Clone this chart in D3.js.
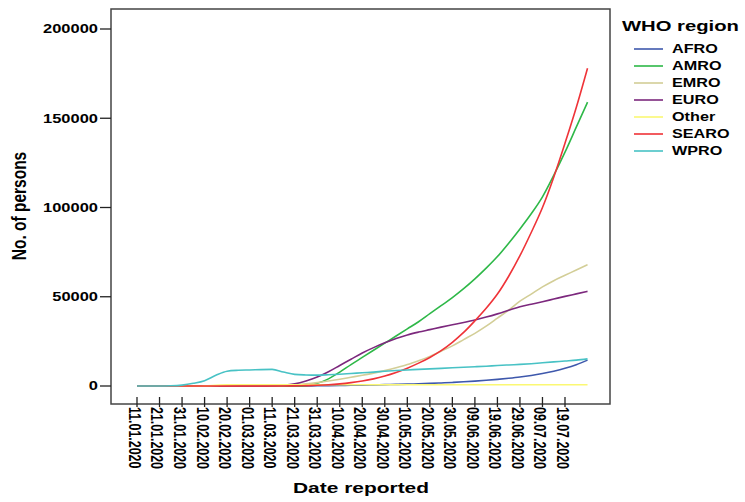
<!DOCTYPE html>
<html><head><meta charset="utf-8">
<script src="https://cdn.jsdelivr.net/npm/d3@7"></script>
<style>
html,body{margin:0;padding:0;background:#fff;}
svg text{font-family:"Liberation Sans",Arial,sans-serif;font-weight:bold;fill:#000;}
</style></head>
<body>
<svg id="chart" width="745" height="502"></svg>
<script>
const dates = ["11.01.2020","16.01.2020","21.01.2020","26.01.2020","31.01.2020","05.02.2020","10.02.2020","15.02.2020","20.02.2020","25.02.2020",
"01.03.2020","06.03.2020","11.03.2020","16.03.2020","21.03.2020","26.03.2020","31.03.2020","05.04.2020","10.04.2020","15.04.2020",
"20.04.2020","25.04.2020","30.04.2020","05.05.2020","10.05.2020","15.05.2020","20.05.2020","25.05.2020","30.05.2020","04.06.2020",
"09.06.2020","14.06.2020","19.06.2020","24.06.2020","29.06.2020","04.07.2020","09.07.2020","14.07.2020","19.07.2020","24.07.2020","29.07.2020"];

const afro  = [0,0,0,0,0,0,0,0,0,0,0,0,0,5,20,50,100,180,300,400,500,600,750,900,1050,1250,1450,1700,2000,2350,2750,3200,3700,4300,5000,5900,7000,8300,9900,11900,14500];
const amro  = [0,0,0,0,0,0,0,0,0,0,0,0,0,0,0,200,1500,4000,7800,12000,16000,20000,24000,28000,32000,36000,40500,45000,49500,54500,60000,66000,72500,80000,88000,96500,106000,118000,131000,145000,159000];
const emro  = [0,0,0,0,0,0,0,0,0,0,0,0,100,300,700,1200,1900,2800,3800,4900,6000,7200,8600,10200,12000,14200,16600,19500,22500,26000,29500,33500,38000,42500,47500,51500,55500,59000,62000,65000,68000];
const euro  = [0,0,0,0,0,0,0,0,0,0,0,0,100,400,1200,2800,5000,8000,11500,15000,18500,21500,24200,26600,28600,30200,31600,33000,34300,35600,37000,38600,40400,42400,44400,45800,47200,48700,50200,51600,53000];
const other = [0,0,0,0,0,0,50,350,650,700,710,710,710,712,712,712,712,712,712,712,712,712,712,712,712,712,712,712,712,712,712,712,712,712,712,712,712,712,712,712,712];
const searo = [0,0,0,0,0,0,0,0,0,0,0,0,10,30,80,200,400,700,1200,1900,2800,4000,5600,7600,10000,12800,16000,19800,24500,30000,36500,43500,51500,61500,73000,86000,100000,117000,136000,156000,178000];
const wpro  = [0,0,0,100,500,1500,3000,6000,8300,8800,9000,9200,9300,7800,6500,6200,6100,6300,6600,7000,7400,7800,8300,8700,9000,9300,9600,9900,10200,10500,10800,11100,11500,11800,12100,12500,13000,13500,14000,14500,15200];

const regions = ["AFRO","AMRO","EMRO","EURO","Other","SEARO","WPRO"];
const colors  = ["#3E58AC","#2EB848","#D3CE97","#7C287D","#FBF873","#EF3338","#48C2C5"];
const seriesValues = [afro, amro, emro, euro, other, searo, wpro];

const xTickLabels = ["11.01.2020","21.01.2020","31.01.2020","10.02.2020","20.02.2020","01.03.2020","11.03.2020","21.03.2020","31.03.2020","10.04.2020",
"20.04.2020","30.04.2020","10.05.2020","20.05.2020","30.05.2020","09.06.2020","19.06.2020","29.06.2020","09.07.2020","19.07.2020"];
const yTicks = [0,50000,100000,150000,200000];

const parse = d3.utcParse("%d.%m.%Y");
const SX = 1.35;

const svg = d3.select("#chart");
const frame = {left:111, top:9, right:610, bottom:404};

const x = d3.scaleUtc().domain([parse("11.01.2020"), parse("19.07.2020")]).range([137, 565]);
const y = d3.scaleLinear().domain([0, 200000]).range([386, 29]);

// lines
const line = d3.line().x(d => x(d.date)).y(d => y(d.v)).curve(d3.curveMonotoneX);
regions.forEach((r, i) => {
  const data = dates.map((d, j) => ({date: parse(d), v: seriesValues[i][j]}));
  svg.append("path").datum(data).attr("d", line)
    .attr("fill","none").attr("stroke", colors[i]).attr("stroke-width",1.6)
    .attr("stroke-linejoin","round");
});

// frame
svg.append("rect").attr("x",frame.left).attr("y",frame.top)
  .attr("width",frame.right-frame.left).attr("height",frame.bottom-frame.top)
  .attr("fill","none").attr("stroke","#444").attr("stroke-width",1.5);

// y axis ticks
const yg = svg.append("g");
yTicks.forEach(t => {
  yg.append("line").attr("x1",100).attr("x2",frame.left).attr("y1",y(t)).attr("y2",y(t))
    .attr("stroke","#222").attr("stroke-width",1.3);
  yg.append("text").attr("transform",`translate(98,${y(t)}) scale(${SX},1)`)
    .attr("text-anchor","end").attr("dy","0.36em").attr("font-size",12.2).text(t);
});

// x axis ticks
const xg = svg.append("g");
xTickLabels.forEach(s => {
  const xx = x(parse(s));
  xg.append("line").attr("x1",xx).attr("x2",xx).attr("y1",397).attr("y2",407)
    .attr("stroke","#222").attr("stroke-width",1.3);
  xg.append("text").attr("transform",`translate(${xx-2},407) scale(${SX},1) rotate(90)`)
    .attr("text-anchor","start").attr("dy","0.36em").attr("font-size",12.4).text(s);
});

// axis titles
svg.append("text").attr("transform",`translate(361,493) scale(${SX},1)`)
  .attr("text-anchor","middle").attr("font-size",15.5).text("Date reported");
svg.append("text").attr("transform",`translate(26,206) scale(${SX},1) rotate(-90)`)
  .attr("text-anchor","middle").attr("font-size",15.5).text("No. of persons");

// legend
svg.append("text").attr("transform",`translate(622,31) scale(${SX},1)`)
  .attr("font-size",15).text("WHO region");
regions.forEach((r, i) => {
  const yy = 49 + i*17;
  svg.append("line").attr("x1",634).attr("x2",663).attr("y1",yy).attr("y2",yy)
    .attr("stroke",colors[i]).attr("stroke-width",1.6);
  svg.append("text").attr("transform",`translate(672,${yy}) scale(${SX},1)`)
    .attr("dy","0.36em").attr("font-size",12).text(r);
});
</script>
</body></html>
